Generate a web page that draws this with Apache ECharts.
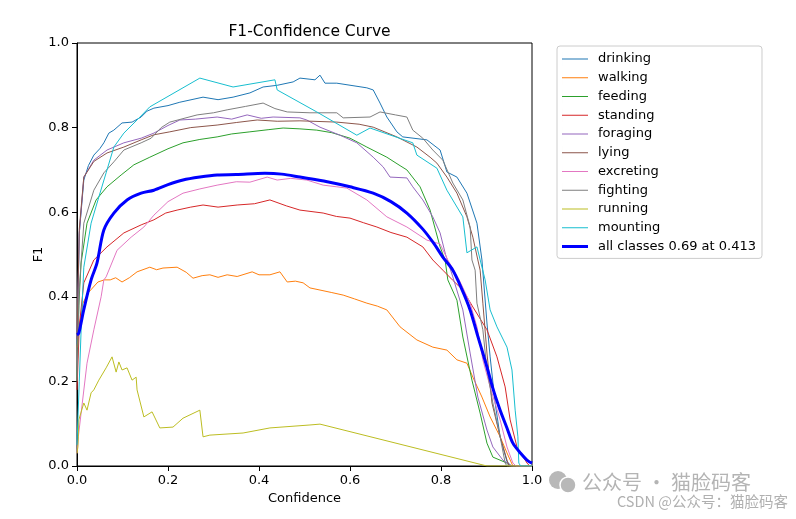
<!DOCTYPE html>
<html>
<head>
<meta charset="utf-8">
<script src="https://cdn.jsdelivr.net/npm/echarts@6/dist/echarts.min.js"></script>
<style>
  html, body { margin: 0; padding: 0; background: #fff; }
  #main { width: 796px; height: 519px; }
</style>
</head>
<body>
<div id="main"></div>
<script>
// class names and colours (matplotlib tab10)
const classNames = ['drinking', 'walking', 'feeding', 'standing', 'foraging', 'lying', 'excreting', 'fighting', 'running', 'mounting'];
const classColors = ['#1f77b4', '#ff7f0e', '#2ca02c', '#d62728', '#9467bd', '#8c564b', '#e377c2', '#7f7f7f', '#bcbd22', '#17becf'];
const allName = 'all classes 0.69 at 0.413';
const xTicks = [0, 0.2, 0.4, 0.6, 0.8, 1.0];

// [confidence, F1]
const drinking = [[0,0.28],[0.005,0.55],[0.015,0.676],[0.025,0.71],[0.037,0.735],[0.05,0.75],[0.059,0.764],[0.07,0.787],[0.081,0.794],[0.099,0.811],[0.121,0.813],[0.141,0.825],[0.154,0.839],[0.169,0.846],[0.2,0.852],[0.226,0.86],[0.277,0.872],[0.31,0.866],[0.343,0.872],[0.38,0.882],[0.409,0.896],[0.44,0.9],[0.475,0.908],[0.49,0.917],[0.523,0.913],[0.534,0.924],[0.545,0.905],[0.571,0.905],[0.637,0.894],[0.651,0.889],[0.666,0.858],[0.681,0.825],[0.703,0.79],[0.716,0.778],[0.769,0.771],[0.798,0.747],[0.813,0.695],[0.835,0.683],[0.857,0.645],[0.879,0.574],[0.89,0.487],[0.901,0.338],[0.908,0.258],[0.919,0.149],[0.93,0.069],[0.945,0.01],[0.955,0],[1,0]];
const walking = [[0,0.28],[0.005,0.33],[0.013,0.385],[0.025,0.41],[0.046,0.435],[0.06,0.44],[0.073,0.44],[0.085,0.445],[0.099,0.435],[0.115,0.445],[0.132,0.459],[0.16,0.47],[0.175,0.464],[0.189,0.468],[0.22,0.47],[0.24,0.458],[0.255,0.444],[0.275,0.45],[0.292,0.452],[0.31,0.446],[0.33,0.452],[0.352,0.448],[0.385,0.459],[0.4,0.452],[0.424,0.452],[0.446,0.459],[0.462,0.435],[0.48,0.437],[0.497,0.433],[0.512,0.421],[0.534,0.416],[0.56,0.41],[0.585,0.404],[0.61,0.395],[0.637,0.385],[0.66,0.378],[0.681,0.369],[0.71,0.329],[0.747,0.298],[0.782,0.281],[0.813,0.274],[0.835,0.251],[0.857,0.243],[0.87,0.21],[0.89,0.163],[0.908,0.116],[0.93,0.069],[0.945,0.031],[0.958,0],[1,0]];
const feeding = [[0,0.2],[0.004,0.38],[0.009,0.48],[0.022,0.574],[0.042,0.629],[0.066,0.66],[0.097,0.688],[0.125,0.712],[0.16,0.73],[0.2,0.75],[0.233,0.764],[0.27,0.772],[0.308,0.778],[0.34,0.785],[0.38,0.79],[0.42,0.795],[0.453,0.799],[0.49,0.797],[0.527,0.794],[0.56,0.788],[0.6,0.775],[0.637,0.754],[0.681,0.73],[0.71,0.71],[0.725,0.7],[0.754,0.66],[0.776,0.605],[0.798,0.518],[0.809,0.487],[0.815,0.44],[0.835,0.392],[0.848,0.305],[0.868,0.203],[0.886,0.125],[0.901,0.054],[0.914,0.021],[0.945,0.007],[0.95,0],[1,0]];
const standing = [[0,0.18],[0.005,0.33],[0.015,0.433],[0.037,0.487],[0.066,0.518],[0.103,0.551],[0.141,0.57],[0.169,0.582],[0.195,0.598],[0.22,0.605],[0.25,0.612],[0.277,0.617],[0.31,0.612],[0.352,0.617],[0.39,0.62],[0.424,0.629],[0.46,0.615],[0.49,0.605],[0.541,0.598],[0.57,0.59],[0.6,0.586],[0.63,0.575],[0.659,0.565],[0.69,0.552],[0.725,0.541],[0.76,0.518],[0.782,0.487],[0.804,0.463],[0.825,0.44],[0.848,0.416],[0.87,0.376],[0.901,0.322],[0.923,0.258],[0.941,0.187],[0.952,0.109],[0.967,0.045],[0.989,0.007],[0.995,0],[1,0]];
const foraging = [[0,0.3],[0.005,0.55],[0.015,0.683],[0.037,0.723],[0.066,0.747],[0.103,0.764],[0.141,0.775],[0.169,0.787],[0.2,0.805],[0.226,0.818],[0.26,0.82],[0.308,0.825],[0.34,0.82],[0.374,0.83],[0.405,0.822],[0.431,0.825],[0.49,0.823],[0.505,0.818],[0.534,0.801],[0.578,0.782],[0.615,0.764],[0.651,0.73],[0.673,0.707],[0.688,0.683],[0.725,0.681],[0.738,0.66],[0.76,0.629],[0.782,0.589],[0.798,0.551],[0.81,0.5],[0.826,0.447],[0.848,0.369],[0.864,0.267],[0.881,0.163],[0.901,0.085],[0.914,0.045],[0.936,0.014],[0.955,0],[1,0]];
const lying = [[0,0.3],[0.005,0.56],[0.015,0.683],[0.037,0.72],[0.066,0.74],[0.103,0.754],[0.141,0.771],[0.169,0.783],[0.204,0.79],[0.25,0.8],[0.308,0.806],[0.35,0.812],[0.396,0.818],[0.44,0.815],[0.49,0.816],[0.571,0.813],[0.62,0.808],[0.651,0.801],[0.703,0.778],[0.747,0.754],[0.776,0.73],[0.791,0.716],[0.813,0.683],[0.835,0.645],[0.857,0.589],[0.87,0.541],[0.881,0.487],[0.886,0.463],[0.892,0.385],[0.901,0.267],[0.912,0.149],[0.93,0.069],[0.945,0.014],[0.95,0],[1,0]];
const excreting = [[0,0.03],[0.003,0.07],[0.009,0.125],[0.022,0.243],[0.037,0.322],[0.053,0.4],[0.059,0.44],[0.064,0.447],[0.088,0.51],[0.119,0.541],[0.147,0.565],[0.169,0.593],[0.2,0.625],[0.233,0.645],[0.27,0.655],[0.308,0.664],[0.35,0.672],[0.38,0.671],[0.418,0.683],[0.44,0.676],[0.47,0.68],[0.505,0.676],[0.541,0.664],[0.571,0.66],[0.593,0.657],[0.637,0.629],[0.681,0.589],[0.725,0.565],[0.769,0.534],[0.798,0.525],[0.815,0.487],[0.84,0.44],[0.864,0.385],[0.879,0.329],[0.892,0.251],[0.908,0.187],[0.93,0.109],[0.945,0.045],[0.958,0.007],[0.965,0],[1,0]];
const fighting = [[0,0.2],[0.005,0.42],[0.015,0.574],[0.037,0.652],[0.059,0.693],[0.081,0.719],[0.103,0.747],[0.141,0.764],[0.163,0.775],[0.185,0.8],[0.204,0.813],[0.264,0.83],[0.3,0.835],[0.33,0.842],[0.37,0.85],[0.409,0.858],[0.435,0.845],[0.462,0.837],[0.512,0.835],[0.571,0.835],[0.585,0.823],[0.644,0.825],[0.666,0.837],[0.7,0.83],[0.725,0.825],[0.738,0.794],[0.76,0.775],[0.782,0.747],[0.804,0.723],[0.826,0.669],[0.848,0.629],[0.864,0.565],[0.868,0.487],[0.875,0.463],[0.879,0.385],[0.892,0.322],[0.901,0.227],[0.914,0.149],[0.93,0.069],[0.941,0.007],[0.945,0],[1,0]];
const running = [[0,0.03],[0.002,0.045],[0.004,0.109],[0.015,0.149],[0.022,0.132],[0.031,0.173],[0.037,0.18],[0.048,0.203],[0.064,0.232],[0.077,0.258],[0.086,0.222],[0.092,0.246],[0.099,0.227],[0.11,0.232],[0.121,0.203],[0.13,0.21],[0.132,0.18],[0.147,0.116],[0.165,0.128],[0.182,0.09],[0.211,0.092],[0.233,0.113],[0.27,0.132],[0.277,0.069],[0.292,0.073],[0.365,0.078],[0.424,0.09],[0.512,0.097],[0.534,0.099],[0.901,0],[1,0]];
const mounting = [[0,0.05],[0.005,0.2],[0.01,0.35],[0.015,0.47],[0.031,0.574],[0.048,0.636],[0.064,0.693],[0.081,0.754],[0.103,0.787],[0.132,0.818],[0.16,0.849],[0.27,0.917],[0.343,0.896],[0.435,0.913],[0.44,0.889],[0.527,0.837],[0.615,0.782],[0.644,0.799],[0.738,0.764],[0.747,0.735],[0.791,0.704],[0.813,0.652],[0.848,0.589],[0.857,0.504],[0.879,0.518],[0.897,0.44],[0.908,0.369],[0.923,0.329],[0.945,0.281],[0.956,0.227],[0.963,0.132],[0.969,0.069],[0.971,0.007],[0.975,0],[1,0]];
const allClasses = [[0,0.31],[0.004,0.314],[0.015,0.37],[0.031,0.44],[0.044,0.48],[0.059,0.558],[0.081,0.598],[0.11,0.629],[0.141,0.645],[0.169,0.652],[0.2,0.665],[0.233,0.676],[0.27,0.683],[0.308,0.688],[0.35,0.689],[0.413,0.692],[0.45,0.69],[0.49,0.683],[0.55,0.672],[0.6,0.66],[0.651,0.645],[0.69,0.625],[0.725,0.598],[0.76,0.56],[0.785,0.525],[0.804,0.494],[0.826,0.463],[0.845,0.42],[0.864,0.369],[0.88,0.31],[0.901,0.234],[0.915,0.18],[0.93,0.132],[0.945,0.09],[0.958,0.054],[0.975,0.03],[0.989,0.014],[1,0.007]];

const classData = [drinking, walking, feeding, standing, foraging, lying, excreting, fighting, running, mounting];

const FONT = 'DejaVu Sans';
// legend swatches: plain line segments (a hairline on the left keeps the 26x14 box)
const thinIcon = 'path://M0,6.5H26V7.6H0Z M0,0H0.01V14H0Z';
const thickIcon = 'path://M0,5.5H26V8.5H0Z M0,0H0.01V14H0Z';

const chart = echarts.init(document.getElementById('main'), null, { renderer: 'canvas' });

const series = classNames.map((name, i) => ({
  name: name,
  type: 'line',
  data: classData[i],
  symbol: 'none',
  showSymbol: false,
  color: classColors[i],
  lineStyle: { width: 1, color: classColors[i] },
  z: 2
}));
series.push({
  name: allName,
  type: 'line',
  data: allClasses,
  symbol: 'none',
  showSymbol: false,
  smooth: 0.3,
  color: '#0000ff',
  lineStyle: { width: 3, color: '#0000ff' },
  z: 3
});

const legendData = classNames.map(n => ({ name: n, icon: thinIcon }));
legendData.push({ name: allName, icon: thickIcon });

const option = {
  animation: false,
  backgroundColor: '#fff',
  title: {
    text: 'F1-Confidence Curve',
    left: 304.5,
    textAlign: 'center',
    top: 19,
    textStyle: { fontFamily: FONT, fontSize: 15.5, fontWeight: 'normal', color: '#000' }
  },
  grid: {
    left: 77, top: 43, width: 455, height: 423,
    show: true, borderColor: '#000', borderWidth: 1, backgroundColor: '#fff'
  },
  legend: {
    data: legendData,
    orient: 'vertical',
    left: 557,
    top: 46,
    padding: [6, 6, 5, 5],
    itemWidth: 26,
    itemHeight: 14,
    itemGap: 4.74,
    symbolKeepAspect: false,
    backgroundColor: '#fff',
    borderColor: '#cccccc',
    borderWidth: 1,
    borderRadius: 3,
    textStyle: { fontFamily: FONT, fontSize: 13, color: '#000', padding: [0, 0, 0, 5] }
  },
  xAxis: {
    type: 'value',
    min: 0, max: 1, interval: 0.2,
    name: 'Confidence',
    nameLocation: 'middle',
    nameGap: 26,
    nameMoveOverlap: false,
    nameTextStyle: { fontFamily: FONT, fontSize: 13, color: '#000' },
    axisLine: { show: true, lineStyle: { color: '#000', width: 1 } },
    axisTick: { show: true, length: 5, lineStyle: { color: '#000' } },
    axisLabel: {
      margin: 8, fontFamily: FONT, fontSize: 13, color: '#000',
      formatter: v => xTicks.includes(+v.toFixed(1)) ? v.toFixed(1) : ''
    },
    splitLine: { show: false }
  },
  yAxis: {
    type: 'value',
    min: 0, max: 1, interval: 0.2,
    name: 'F1',
    nameLocation: 'middle',
    nameGap: 32,
    nameMoveOverlap: false,
    nameTextStyle: { fontFamily: FONT, fontSize: 13, color: '#000' },
    axisLine: { show: true, lineStyle: { color: '#000', width: 1 } },
    axisTick: { show: true, length: 5, lineStyle: { color: '#000' } },
    axisLabel: { margin: 8, fontFamily: FONT, fontSize: 13, color: '#000', formatter: v => v.toFixed(1) },
    splitLine: { show: false }
  },
  series: series,
  graphic: [
    // watermark: wechat-like bubbles + text
    { type: 'circle', shape: { cx: 558, cy: 480, r: 9 }, style: { fill: '#b8b8b8' }, z: 10 },
    { type: 'circle', shape: { cx: 568, cy: 485, r: 8 }, style: { fill: '#b8b8b8', stroke: '#fff', lineWidth: 1.5 }, z: 11 },
    { type: 'text', left: 582, top: 472, z: 10,
      style: { text: '公众号 · 猫脸码客', fontFamily: 'Noto Sans CJK SC', fontSize: 20, fill: '#b4b4b4' } },
    { type: 'text', left: 617, top: 494, z: 10,
      style: { text: 'CSDN @公众号：猫脸码客', fontFamily: 'Noto Sans CJK SC', fontSize: 14.5, fill: '#b0b0b0' } }
  ]
};
chart.setOption(option);
</script>
</body>
</html>
